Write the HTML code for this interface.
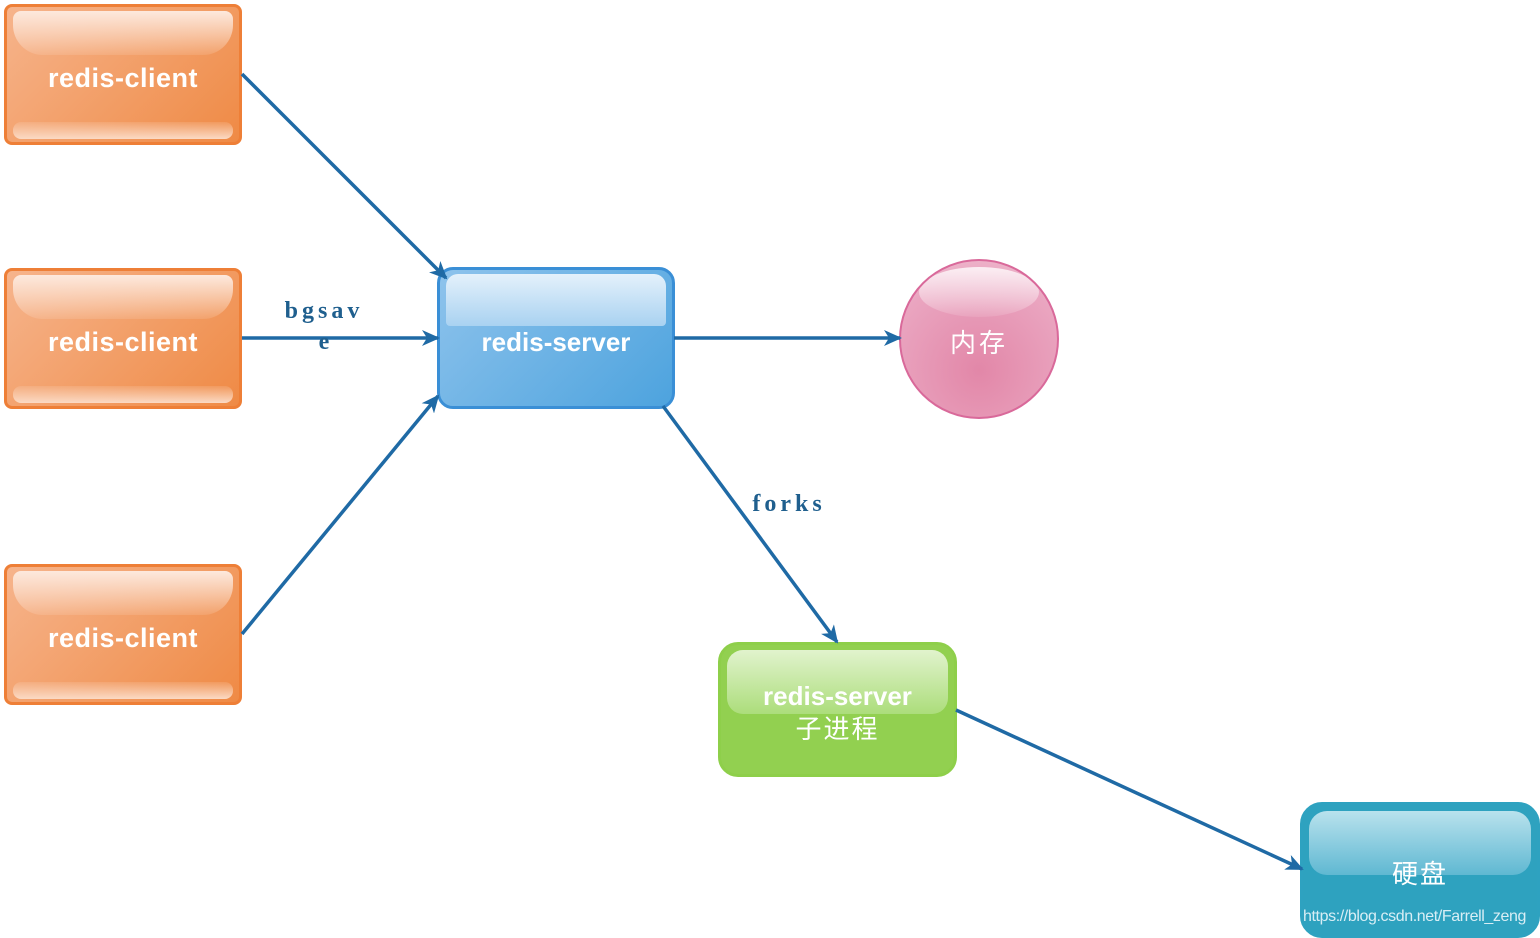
<!DOCTYPE html>
<html><head><meta charset="utf-8">
<style>
html,body{margin:0;padding:0;background:#fff;}
body{width:1540px;height:938px;position:relative;overflow:hidden;font-family:"Liberation Sans","Noto Sans CJK SC",sans-serif;}
.box{position:absolute;box-sizing:border-box;color:#fff;font-weight:bold;display:flex;align-items:center;justify-content:center;text-align:center;overflow:hidden;}
.client{width:238px;height:141px;border:3px solid #ee7f37;border-radius:8px;background:linear-gradient(135deg,#f6b48c,#ef8a45);font-size:27px;letter-spacing:0.5px;}
.client:before{content:"";position:absolute;left:6px;right:6px;top:4px;height:44px;border-radius:8px 8px 30px 30px;background:linear-gradient(#fde9dd,rgba(255,255,255,0.1));}
.client:after{content:"";position:absolute;left:6px;right:6px;bottom:3px;height:17px;border-radius:8px;background:linear-gradient(rgba(255,255,255,0.1),#fbdac4);}
.t{position:relative;z-index:2;}
.client .t{top:4px;}
</style></head><body>
<svg width="1540" height="938" style="position:absolute;left:0;top:0;z-index:1">
<defs><marker id="a" markerWidth="18" markerHeight="16" refX="16" refY="8" orient="auto" markerUnits="userSpaceOnUse" viewBox="0 0 18 16"><path d="M0,0 L18,8 L0,16 L5,8z" fill="#1f6aa5"/></marker></defs>
<g stroke="#1f6aa5" stroke-width="3.5" fill="none">
<line x1="242" y1="74" x2="446" y2="278" marker-end="url(#a)"/>
<line x1="242" y1="338" x2="438" y2="338" marker-end="url(#a)"/>
<line x1="242" y1="634" x2="438" y2="396" marker-end="url(#a)"/>
<line x1="674" y1="338" x2="900" y2="338" marker-end="url(#a)"/>
<line x1="663" y1="406" x2="837" y2="642" marker-end="url(#a)"/>
<line x1="956" y1="710" x2="1302" y2="869" marker-end="url(#a)"/>
</g>
<text x="324" y="318" font-family="Liberation Serif,serif" font-weight="bold" font-size="24" fill="#1f5f8e" text-anchor="middle" letter-spacing="4">bgsav</text>
<text x="324" y="349" font-family="Liberation Serif,serif" font-weight="bold" font-size="24" fill="#1f5f8e" text-anchor="middle">e</text>
<text x="789" y="511" font-family="Liberation Serif,serif" font-weight="bold" font-size="24" fill="#1f5f8e" text-anchor="middle" letter-spacing="4">forks</text>
</svg>

<div class="box client" style="left:4px;top:4px"><span class="t">redis-client</span></div>
<div class="box client" style="left:4px;top:268px"><span class="t">redis-client</span></div>
<div class="box client" style="left:4px;top:564px"><span class="t">redis-client</span></div>

<div class="box" style="left:437px;top:267px;width:238px;height:142px;border:3px solid #3a8fd6;border-radius:16px;background:linear-gradient(135deg,#8ec3ec,#4da3de);font-size:26px;">
<div style="position:absolute;left:6px;right:6px;top:4px;height:52px;border-radius:12px 12px 4px 4px;background:linear-gradient(#e4f1fb,#a9d2f1);"></div>
<span class="t" style="top:4px">redis-server</span></div>

<div class="box" style="left:899px;top:259px;width:160px;height:160px;border:2px solid #d9699a;border-radius:50%;background:radial-gradient(circle at 50% 70%,#e287a8,#eaa5c0 70%,#f2c6d7);font-size:26px;font-weight:normal;">
<div style="position:absolute;left:18px;right:18px;top:6px;height:50px;border-radius:50%;background:linear-gradient(#fbeef3,rgba(255,255,255,0.1));"></div>
<span class="t" style="letter-spacing:3px;top:2px">内存</span></div>

<div class="box" style="left:718px;top:642px;width:239px;height:135px;border:3px solid #8ecf4a;border-radius:20px;background:#92d050;font-size:26px;flex-direction:column;line-height:33px;padding-top:6px;">
<div style="position:absolute;left:6px;right:6px;top:5px;height:64px;border-radius:16px;background:linear-gradient(#e1f3cd,#acdd7b);"></div>
<span class="t">redis-server</span><span class="t" style="font-weight:normal;letter-spacing:2px">子进程</span></div>

<div class="box" style="left:1300px;top:802px;width:240px;height:136px;border:3px solid #2ea2c0;border-radius:22px;background:#2ea2bf;font-size:26px;font-weight:normal;">
<div style="position:absolute;left:6px;right:6px;top:6px;height:64px;border-radius:18px;background:linear-gradient(#b9e2ed,#5fb8d2);"></div>
<span class="t" style="margin-top:4px;letter-spacing:2px">硬盘</span>
<span style="position:absolute;left:0px;bottom:9px;font-size:16px;letter-spacing:-0.4px;color:#d8eef5;font-weight:normal;z-index:2;white-space:nowrap">https://blog.csdn.net/Farrell_zeng</span>
</div>
</body></html>
